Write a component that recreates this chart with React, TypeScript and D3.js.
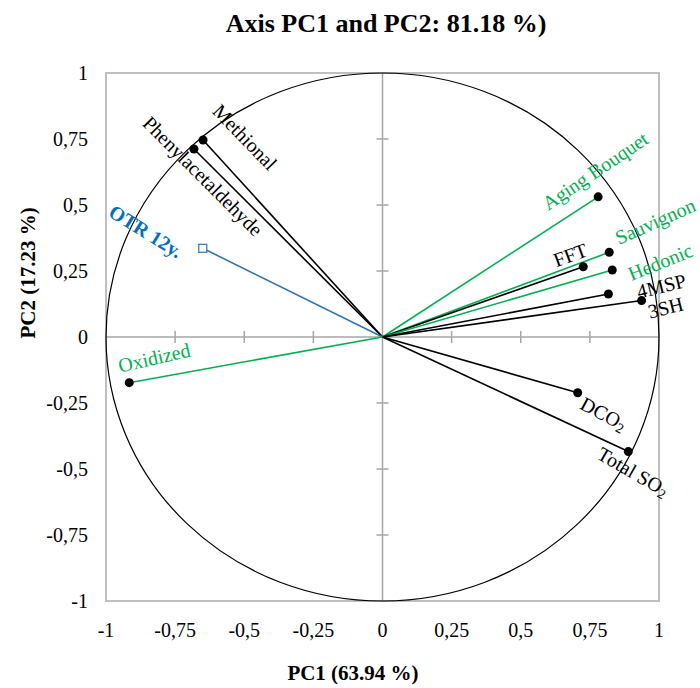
import React from "react";
import * as d3 from "d3";

// PCA correlation circle: loadings of each variable on PC1 / PC2
const variables = [
  "Methional",
  "Phenylacetaldehyde",
  "OTR 12y.",
  "Aging Bouquet",
  "Sauvignon",
  "FFT",
  "Hedonic",
  "4MSP",
  "3SH",
  "DCO2",
  "Total SO2",
  "Oxidized",
];
const pc1 = [-0.649, -0.682, -0.65, 0.78, 0.82, 0.726, 0.831, 0.817, 0.937, 0.706, 0.889, -0.916];
const pc2 = [0.746, 0.712, 0.336, 0.531, 0.321, 0.266, 0.254, 0.163, 0.138, -0.211, -0.434, -0.173];
// "chem" = analytical variable, "sens" = sensory variable, "supp" = supplementary variable
const kinds = ["chem", "chem", "supp", "sens", "sens", "chem", "sens", "chem", "chem", "chem", "chem", "sens"];

const tickValues = [-1, -0.75, -0.5, -0.25, 0, 0.25, 0.5, 0.75, 1];
const tickLabels = ["-1", "-0,75", "-0,5", "-0,25", "0", "0,25", "0,5", "0,75", "1"];

const titleText = "Axis PC1 and PC2: 81.18 %)";
const xTitle = "PC1 (63.94 %)";
const yTitle = "PC2 (17.23 %)";

// label placement relative to each marker: [dx, dy, rotation]
const labelLayout: Record<string, [number, number, number]> = {
  Methional: [42, -3, 46],
  Phenylacetaldehyde: [9, 27, 45],
  "OTR 12y.": [-57, -17, 32],
  "Aging Bouquet": [-3, -26, -34],
  Sauvignon: [46, -31, -24],
  FFT: [-13, -12, -20],
  Hedonic: [48, -8, -22],
  "4MSP": [53, -8, -14],
  "3SH": [24, 7, -14],
  DCO2: [26, 21, 28],
  "Total SO2": [5, 20, 30],
  Oxidized: [25, -25, -13],
};

const colors: Record<string, string> = {
  chem: "#000000",
  sens: "#00b050",
  supp: "#2e75b6",
};
const labelColors: Record<string, string> = {
  chem: "#000000",
  sens: "#00b050",
  supp: "#0070c0",
};

const W = 700;
const H = 688;
const FONT = "'Liberation Serif', 'Times New Roman', serif";

function Label({ name }: { name: string }) {
  if (name.endsWith("O2")) {
    return (
      <>
        {name.slice(0, -1)}
        <tspan fontSize={14} dy={5}>2</tspan>
      </>
    );
  }
  return <>{name}</>;
}

export default function App() {
  const x = d3.scaleLinear().domain([-1, 1]).range([106, 659]);
  const y = d3.scaleLinear().domain([-1, 1]).range([601, 73]);
  const cx = x(0);
  const cy = y(0);
  const rx = x(1) - x(0);
  const ry = y(0) - y(1);

  const data = variables.map((name, i) => ({ name, px: pc1[i], py: pc2[i], kind: kinds[i] }));

  return (
    <svg
      width={W}
      height={H}
      style={{ position: "absolute", left: 0, top: 0, background: "#fff", fontFamily: FONT }}
    >
      <rect x={0} y={0} width={W} height={H} fill="#fff" />
      {/* title */}
      <text x={386} y={32} textAnchor="middle" fontSize={26} fontWeight="bold" fill="#000">
        {titleText}
      </text>

      {/* plot frame */}
      <rect x={x(-1)} y={y(1)} width={x(1) - x(-1)} height={y(-1) - y(1)} fill="none" stroke="#bfbfbf" strokeWidth={2} />

      {/* central axes */}
      <line x1={x(-1)} x2={x(1)} y1={cy} y2={cy} stroke="#a6a6a6" strokeWidth={1.5} />
      <line x1={cx} x2={cx} y1={y(-1)} y2={y(1)} stroke="#a6a6a6" strokeWidth={1.5} />
      {tickValues
        .filter((v) => v !== 0 && Math.abs(v) !== 1)
        .map((v) => (
          <g key={"t" + v}>
            <line x1={cx - 6} x2={cx + 6} y1={y(v)} y2={y(v)} stroke="#a6a6a6" strokeWidth={1.5} />
            <line x1={x(v)} x2={x(v)} y1={cy - 6} y2={cy + 6} stroke="#a6a6a6" strokeWidth={1.5} />
          </g>
        ))}

      {/* unit circle */}
      <ellipse cx={cx} cy={cy} rx={rx} ry={ry} fill="none" stroke="#000" strokeWidth={1.2} />

      {/* tick labels */}
      {tickValues.map((v, i) => (
        <text key={"yl" + v} x={88} y={y(v) + 7} textAnchor="end" fontSize={20} fill="#000">
          {tickLabels[i]}
        </text>
      ))}
      {tickValues.map((v, i) => (
        <text key={"xl" + v} x={x(v)} y={637} textAnchor="middle" fontSize={20} fill="#000">
          {tickLabels[i]}
        </text>
      ))}

      {/* axis titles */}
      <text x={353} y={680} textAnchor="middle" fontSize={21} fontWeight="bold" fill="#000">
        {xTitle}
      </text>
      <text
        transform={`translate(28,273) rotate(-90)`}
        textAnchor="middle"
        dominantBaseline="central"
        fontSize={21}
        fontWeight="bold"
        fill="#000"
      >
        {yTitle}
      </text>

      {/* loading vectors */}
      {data.map((d) => (
        <line
          key={"v" + d.name}
          x1={cx}
          y1={cy}
          x2={x(d.px)}
          y2={y(d.py)}
          stroke={colors[d.kind]}
          strokeWidth={1.6}
        />
      ))}

      {/* markers */}
      {data.map((d) =>
        d.kind === "supp" ? (
          <rect
            key={"m" + d.name}
            x={x(d.px) - 4}
            y={y(d.py) - 4}
            width={8}
            height={8}
            fill="#fff"
            stroke={colors[d.kind]}
            strokeWidth={1.2}
          />
        ) : (
          <circle key={"m" + d.name} cx={x(d.px)} cy={y(d.py)} r={4.5} fill="#000" />
        )
      )}

      {/* variable labels */}
      {data.map((d) => {
        const [dx, dy, rot] = labelLayout[d.name];
        const lx = x(d.px) + dx;
        const ly = y(d.py) + dy;
        return (
          <text
            key={"l" + d.name}
            transform={`translate(${lx},${ly}) rotate(${rot})`}
            textAnchor="middle"
            dominantBaseline="central"
            fontSize={20}
            fontWeight={d.kind === "supp" ? "bold" : "normal"}
            fill={labelColors[d.kind]}
          >
            <Label name={d.name} />
          </text>
        );
      })}
    </svg>
  );
}
